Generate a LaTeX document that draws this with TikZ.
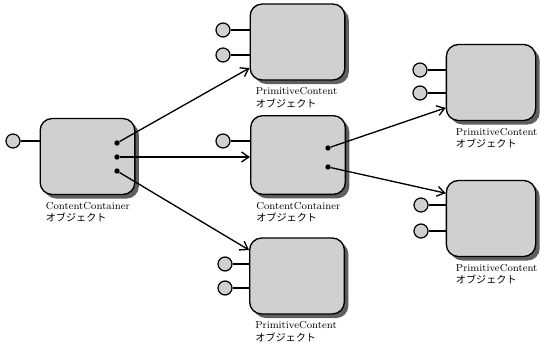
\documentclass[tikz,border=0pt]{standalone}
\usepackage{fontspec}
\newfontfamily\jpfont{Noto Sans CJK JP}
\usetikzlibrary{shadows,arrows.meta}

\definecolor{boxgray}{RGB}{208,208,208}
\definecolor{shadowgray}{RGB}{95,95,95}

\tikzset{
  obj/.style={draw, line width=1pt, fill=boxgray, rounded corners=9pt,
    minimum width=71pt, minimum height=57pt, inner sep=0pt,
    drop shadow={shadow xshift=3pt, shadow yshift=-3pt, fill=shadowgray, opacity=1}},
  port/.style={circle, draw, line width=0.9pt, fill=boxgray, minimum size=10.5pt, inner sep=0pt},
  pin/.style={circle, fill=black, minimum size=4pt, inner sep=0pt},
  objlabel/.style={anchor=north west, align=left, font=\fontsize{7.6}{9.5}\selectfont, inner sep=0pt},
  link/.style={line width=1pt, -{Straight Barb[length=5.5pt,width=7.5pt]}},
  wire/.style={line width=1pt}
}

\begin{document}
\begin{tikzpicture}[x=0.75pt, y=-0.75pt]
\useasboundingbox (0,0) rectangle (540,343);

% objects
\node[obj] (cc) at (87.5,156.5) {};
\node[obj] (pc1) at (297.5,42) {};
\node[obj, minimum height=59pt] (cc2) at (298,155) {};
\node[obj] (pc2) at (297,276) {};
\node[obj, minimum width=67pt] (pc3) at (491,82.5) {};
\node[obj, minimum width=67pt] (pc4) at (491,218.5) {};

% labels
\node[objlabel] (lcc) at ([xshift=4.5pt, yshift=-5pt]cc.south west) {ContentContainer\\{\jpfont オブジェクト}};
\node[objlabel] (lpc1) at ([xshift=4.5pt, yshift=-5pt]pc1.south west) {PrimitiveContent\\{\jpfont オブジェクト}};
\node[objlabel] (lcc2) at ([xshift=4.5pt, yshift=-5pt]cc2.south west) {ContentContainer\\{\jpfont オブジェクト}};
\node[objlabel] (lpc2) at ([xshift=4.5pt, yshift=-5pt]pc2.south west) {PrimitiveContent\\{\jpfont オブジェクト}};
\node[objlabel] (lpc3) at ([xshift=7.5pt, yshift=-5pt]pc3.south west) {PrimitiveContent\\{\jpfont オブジェクト}};
\node[objlabel] (lpc4) at ([xshift=7.5pt, yshift=-5pt]pc4.south west) {PrimitiveContent\\{\jpfont オブジェクト}};

% ports
\node[port] (p0) at (13,141) {};
\node[port] (p1) at (223,30) {};
\node[port] (p2) at (223,55) {};
\node[port] (p3) at (223,141) {};
\node[port] (p4) at (225,264) {};
\node[port] (p5) at (225,288) {};
\node[port] (p6) at (420,70) {};
\node[port] (p7) at (420,93) {};
\node[port] (p8) at (421,205) {};
\node[port] (p9) at (421,231) {};

\draw[wire] (p0.east) -- (p0.east -| cc.west);
\draw[wire] (p1.east) -- (p1.east -| pc1.west);
\draw[wire] (p2.east) -- (p2.east -| pc1.west);
\draw[wire] (p3.east) -- (p3.east -| cc2.west);
\draw[wire] (p4.east) -- (p4.east -| pc2.west);
\draw[wire] (p5.east) -- (p5.east -| pc2.west);
\draw[wire] (p6.east) -- (p6.east -| pc3.west);
\draw[wire] (p7.east) -- (p7.east -| pc3.west);
\draw[wire] (p8.east) -- (p8.east -| pc4.west);
\draw[wire] (p9.east) -- (p9.east -| pc4.west);

% references
\node[pin] (a1) at (117,143) {};
\node[pin] (a2) at (117,157) {};
\node[pin] (a3) at (117,171) {};
\node[pin] (b1) at (328,148) {};
\node[pin] (b2) at (328,167) {};

\draw[link] (a1) -- ([yshift=-19.5pt]pc1.west);
\draw[link] (a2) -- (a2 -| cc2.west);
\draw[link] (a3) -- ([yshift=19.5pt]pc2.west);
\draw[link] (b1) -- ([yshift=-19pt]pc3.west);
\draw[link] (b2) -- ([yshift=19pt]pc4.west);
\end{tikzpicture}
\end{document}
